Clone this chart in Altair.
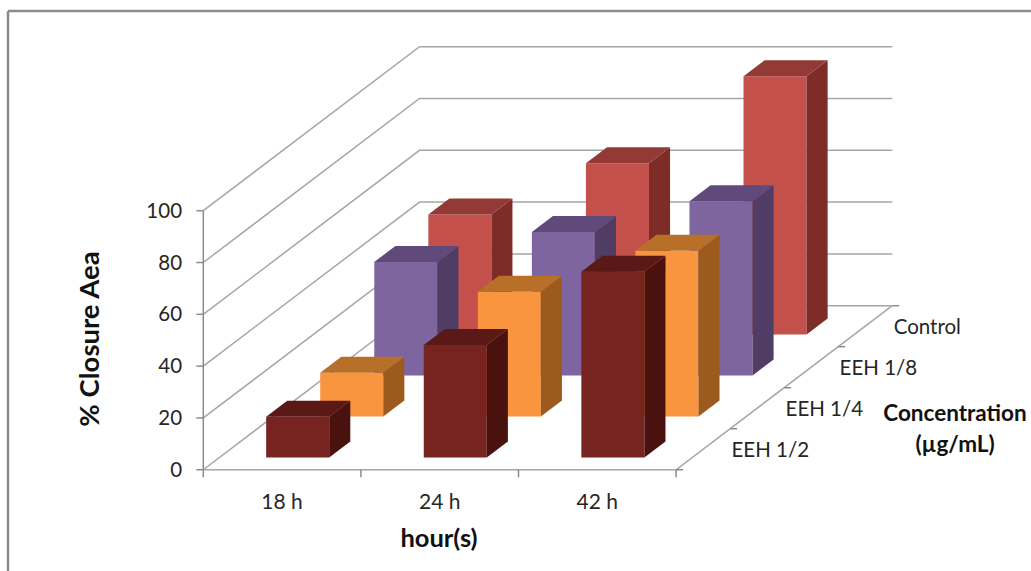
import altair as alt
import pandas as pd

hours = ["18 h", "24 h", "42 h"]
concentrations = ["EEH 1/2", "EEH 1/4", "EEH 1/8", "Control"]
value_ticks = [0, 20, 40, 60, 80, 100]

eeh_half = [15.7, 43.4, 71.7]
eeh_quarter = [16.9, 48.1, 64.0]
eeh_eighth = [43.8, 55.4, 67.2]
control = [46.3, 66.1, 99.7]
series = [eeh_half, eeh_quarter, eeh_eighth, control]

front_colors = ["#772320", "#F9943F", "#7F65A0", "#C3504A"]
side_colors = ["#4A120E", "#9C5B1D", "#4F3D66", "#7D2C28"]
top_colors = ["#5A1917", "#B87029", "#604A7B", "#943A36"]

GRID = "#a6a6a6"
AXIS = "#8c8c8c"
TEXT = "#262626"
FONT = "Lato"

# Oblique projection: one depth slot moves a point right (in category units)
# and up (in value units).
DEPTH_X = 0.343
DEPTH_Y = 15.83

# Bar placement inside its category / depth cell.
BAR_LEFT = 0.296
BAR_WIDTH = 0.40
BAR_FRONT = 0.30
BAR_BACK = 0.69

X_SCALE = alt.Scale(domain=[-1.29, 5.252], range=[0, 1031], nice=False, zero=False)
Y_SCALE = alt.Scale(domain=[-39.1, 181.35], range=[571, 0], nice=False, zero=False)


def px(cat, depth):
    return cat + depth * DEPTH_X


def py(value, depth):
    return value + depth * DEPTH_Y


def enc_x(field="x"):
    return alt.X(f"{field}:Q", scale=X_SCALE, axis=None)


def enc_y(field="y"):
    return alt.Y(f"{field}:Q", scale=Y_SCALE, axis=None)


def polyline(points, width, color):
    frame = pd.DataFrame(
        [{"x": px(c, d), "y": py(v, d), "i": i} for i, (c, d, v) in enumerate(points)]
    )
    return (
        alt.Chart(frame)
        .mark_line(color=color, strokeWidth=width, interpolate="linear")
        .encode(x=enc_x(), y=enc_y(), order="i:Q")
    )


layers = []

# Outer frame of the chart area
frame_src = pd.DataFrame({"k": [0]})
layers.append(
    alt.Chart(frame_src)
    .mark_rule(color=AXIS, strokeWidth=2.5)
    .encode(x=alt.value(8), y=alt.value(11), y2=alt.value(571))
)
layers.append(
    alt.Chart(frame_src)
    .mark_rule(color=AXIS, strokeWidth=2.5)
    .encode(x=alt.value(8), x2=alt.value(1031), y=alt.value(11))
)

# Walls and floor
n_cat = len(hours)
n_depth = len(concentrations)
for v in value_ticks:
    layers.append(polyline([(0, 0, v), (0, n_depth, v), (n_cat, n_depth, v)], 1.5, GRID))
layers.append(polyline([(0, 0, 0), (n_cat, 0, 0), (n_cat, n_depth, 0)], 1.5, GRID))
layers.append(polyline([(0, 0, 0), (0, 0, 100)], 1.5, AXIS))

# Tick marks on the three axes
for v in value_ticks:
    layers.append(polyline([(-0.044, 0, v), (0, 0, v)], 1.5, AXIS))
for c in range(n_cat + 1):
    layers.append(polyline([(c, 0, -2.9), (c, 0, 0)], 1.5, AXIS))
for d in range(n_depth + 1):
    layers.append(polyline([(n_cat, d, 0), (n_cat + 0.044, d, 0)], 1.5, AXIS))

# Bars, painted from the back row forward
for d in reversed(range(n_depth)):
    rows = []
    for c, val in enumerate(series[d]):
        rows.append({"c": c, "v": val})
    base = pd.DataFrame(rows)
    left = base["c"] + BAR_LEFT
    right = left + BAR_WIDTH

    front = pd.DataFrame(
        {
            "x": px(left, d + BAR_FRONT),
            "x2": px(right, d + BAR_FRONT),
            "y": py(0, d + BAR_FRONT),
            "y2": py(base["v"], d + BAR_FRONT),
        }
    )
    layers.append(
        alt.Chart(front)
        .mark_rect(color=front_colors[d])
        .encode(x=enc_x(), x2="x2:Q", y=enc_y(), y2="y2:Q")
    )

    side_rows, top_rows = [], []
    for c, val in enumerate(series[d]):
        l = c + BAR_LEFT
        r = l + BAR_WIDTH
        for depth in (d + BAR_FRONT, d + BAR_BACK):
            side_rows.append(
                {"bar": c, "x": px(r, depth), "y": py(0, depth), "y2": py(val, depth)}
            )
            top_rows.append(
                {"bar": c, "y": py(val, depth), "x": px(l, depth), "x2": px(r, depth)}
            )
    layers.append(
        alt.Chart(pd.DataFrame(side_rows))
        .mark_area(color=side_colors[d], interpolate="linear")
        .encode(x=enc_x(), y=enc_y(), y2="y2:Q", detail="bar:N")
    )
    layers.append(
        alt.Chart(pd.DataFrame(top_rows))
        .mark_area(color=top_colors[d], orient="horizontal", interpolate="linear")
        .encode(x=enc_x(), x2="x2:Q", y=enc_y(), detail="bar:N")
    )

# Tick labels
value_labels = pd.DataFrame(
    {"x": [-0.135] * len(value_ticks), "y": value_ticks, "t": [str(v) for v in value_ticks]}
)
layers.append(
    alt.Chart(value_labels)
    .mark_text(align="right", baseline="middle", dy=1, font=FONT, fontSize=20.5, color=TEXT)
    .encode(x=enc_x(), y=enc_y(), text="t:N")
)
hour_labels = pd.DataFrame(
    {"x": [i + 0.5 for i in range(n_cat)], "y": [-12.4] * n_cat, "t": hours}
)
layers.append(
    alt.Chart(hour_labels)
    .mark_text(align="center", baseline="middle", dy=1, font=FONT, fontSize=21, color=TEXT)
    .encode(x=enc_x(), y=enc_y(), text="t:N")
)
conc_labels = pd.DataFrame(
    {
        "x": [px(n_cat + 0.18, d + 0.5) for d in range(n_depth)],
        "y": [py(0, d + 0.5) for d in range(n_depth)],
        "t": concentrations,
    }
)
layers.append(
    alt.Chart(conc_labels)
    .mark_text(align="left", baseline="middle", dy=2, font=FONT, fontSize=20.5, color=TEXT)
    .encode(x=enc_x(), y=enc_y(), text="t:N")
)

# Axis titles
layers.append(
    alt.Chart(frame_src)
    .mark_text(
        text="% Closure Aea", angle=270, align="center", baseline="middle",
        font=FONT, fontSize=27.5, fontWeight="bold", color="#111111",
    )
    .encode(x=alt.value(91), y=alt.value(339))
)
layers.append(
    alt.Chart(frame_src)
    .mark_text(
        text="hour(s)", align="center", baseline="middle",
        font=FONT, fontSize=25.5, fontWeight="bold", color="#111111",
    )
    .encode(x=alt.value(439), y=alt.value(539))
)
layers.append(
    alt.Chart(frame_src)
    .mark_text(
        text=["Concentration", "(µg/mL)"], align="center", baseline="middle", lineHeight=31,
        font=FONT, fontSize=22.5, fontWeight="bold", color="#111111",
    )
    .encode(x=alt.value(955), y=alt.value(414))
)

chart = (
    alt.layer(*layers)
    .properties(
        width=1031,
        height=571,
        padding=0,
        background="white",
        autosize=alt.AutoSizeParams(type="none"),
    )
    .configure_view(stroke=None)
)

chart.save("out.html", embed_options={"renderer": "svg", "actions": False})
